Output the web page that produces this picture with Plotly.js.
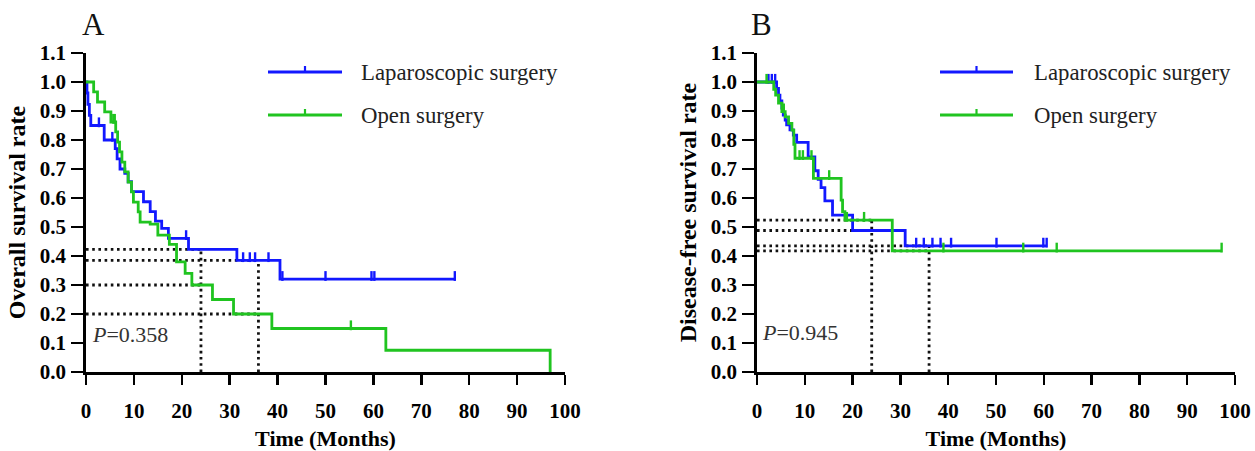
<!DOCTYPE html>
<html>
<head>
<meta charset="utf-8">
<script src="https://cdn.plot.ly/plotly-3.0.1.min.js"></script>
<style>
html,body{margin:0;padding:0;background:#fff;}
#chart{width:1255px;height:451px;}
</style>
</head>
<body>
<div id="chart"></div>
<script>
// ---------------- DATA ----------------
// Panel A: overall survival
const lapOS_times = [0.2, 0.4, 0.7, 1.0, 3.8, 6.1, 6.5, 7.1, 8.1, 8.8, 9.5, 12.0, 13.4, 14.5, 15.8, 17.2, 21.4, 31.5, 40.5];
const lapOS_surv  = [0.962, 0.923, 0.885, 0.85, 0.80, 0.77, 0.735, 0.70, 0.685, 0.656, 0.622, 0.587, 0.553, 0.52, 0.495, 0.461, 0.423, 0.385, 0.32];
const lapOS_end   = 77;
const lapOS_cens  = [2.7, 5.5, 20.9, 32.8, 34.2, 35.3, 38.1, 41.0, 50.0, 59.6, 60.2, 77.0];

const openOS_times = [1.6, 2.4, 3.9, 5.2, 6.2, 6.6, 7.0, 7.5, 8.1, 8.8, 9.5, 9.9, 10.9, 11.3, 13.4, 15.0, 17.4, 18.9, 20.7, 22.1, 26.4, 30.8, 38.8, 62.6, 96.9];
const openOS_surv  = [0.966, 0.931, 0.897, 0.862, 0.828, 0.793, 0.759, 0.724, 0.69, 0.655, 0.621, 0.586, 0.552, 0.517, 0.51, 0.472, 0.44, 0.38, 0.34, 0.30, 0.25, 0.20, 0.15, 0.075, 0];
const openOS_end   = 96.9;
const openOS_cens  = [5.7, 6.0, 55.3];

// Panel B: disease-free survival
const lapDFS_times = [4.1, 4.5, 4.8, 5.2, 5.5, 5.9, 6.2, 6.9, 7.6, 8.3, 10.7, 12.1, 12.8, 13.4, 14.2, 15.8, 20.0, 31.0];
const lapDFS_surv  = [0.978, 0.955, 0.935, 0.91, 0.886, 0.869, 0.852, 0.835, 0.817, 0.792, 0.742, 0.694, 0.664, 0.636, 0.59, 0.541, 0.488, 0.435];
const lapDFS_end   = 60.6;
const lapDFS_cens  = [2.4, 3.1, 3.8, 33.3, 34.9, 36.7, 38.4, 40.6, 50.1, 59.9, 60.6];

const openDFS_times = [3.5, 3.9, 4.5, 5.2, 5.9, 6.6, 7.3, 7.7, 7.95, 11.8, 17.6, 17.9, 18.4, 28.3];
const openDFS_surv  = [0.975, 0.955, 0.927, 0.898, 0.88, 0.857, 0.834, 0.785, 0.737, 0.668, 0.593, 0.553, 0.524, 0.418];
const openDFS_end   = 97.2;
const openDFS_cens  = [2.0, 5.6, 8.9, 9.6, 11.4, 15.1, 18.8, 22.4, 39.0, 55.7, 62.7, 97.2];

const landmarks = [24, 36];
const seriesNames = ['Laparoscopic surgery', 'Open surgery'];
const pValues = ['0.358', '0.945'];
const panelLabels = ['A', 'B'];
const yTitles = ['Overall survival rate', 'Disease-free survival rate'];
const xTitle = 'Time (Months)';
const xTickVals = [0, 10, 20, 30, 40, 50, 60, 70, 80, 90, 100];
const yTickVals = [0, 0.1, 0.2, 0.3, 0.4, 0.5, 0.6, 0.7, 0.8, 0.9, 1.0, 1.1];
const yTickText = ['0.0','0.1','0.2','0.3','0.4','0.5','0.6','0.7','0.8','0.9','1.0','1.1'];

// ---------------- STYLE ----------------
const BLUE = 'rgb(18,24,255)';
const GREEN = 'rgb(32,196,32)';
const SERIF = '"Liberation Serif", "Times New Roman", Times, serif';

function kmXY(times, surv, end) {
  const x = [0], y = [1];
  for (let i = 0; i < times.length; i++) { x.push(times[i]); y.push(surv[i]); }
  if (end > times[times.length - 1]) { x.push(end); y.push(surv[surv.length - 1]); }
  return {x, y};
}
function stepAt(times, surv, t) {
  let s = 1;
  for (let i = 0; i < times.length; i++) if (times[i] <= t) s = surv[i];
  return s;
}

const panels = [
  {groups: [[lapOS_times, lapOS_surv, lapOS_end, lapOS_cens, BLUE], [openOS_times, openOS_surv, openOS_end, openOS_cens, GREEN]], xa: 'x', ya: 'y'},
  {groups: [[lapDFS_times, lapDFS_surv, lapDFS_end, lapDFS_cens, BLUE], [openDFS_times, openDFS_surv, openDFS_end, openDFS_cens, GREEN]], xa: 'x2', ya: 'y2'}
];

const traces = [];
panels.forEach(p => {
  const dx = [], dy = [];
  landmarks.forEach(L => {
    let top = 0;
    p.groups.forEach(g => {
      const s = stepAt(g[0], g[1], L);
      top = Math.max(top, s);
      dx.push(0, L, null); dy.push(s, s, null);
    });
    dx.push(L, L, null); dy.push(0, top, null);
  });
  traces.push({x: dx, y: dy, xaxis: p.xa, yaxis: p.ya, mode: 'lines', hoverinfo: 'skip',
    line: {color: '#111', width: 2.8, dash: '2.6px,3.6px'}, showlegend: false});
  p.groups.forEach(g => {
    const xy = kmXY(g[0], g[1], g[2]);
    traces.push({x: xy.x, y: xy.y, xaxis: p.xa, yaxis: p.ya, mode: 'lines',
      line: {color: g[4], width: 2.8, shape: 'hv'}, showlegend: false});
    const cy = g[3].map(t => stepAt(g[0], g[1], t) + 0.011);
    traces.push({x: g[3], y: cy, xaxis: p.xa, yaxis: p.ya, mode: 'markers', cliponaxis: false,
      marker: {symbol: 'line-ns', size: 7, line: {color: g[4], width: 2.4}}, showlegend: false});
  });
});

function xaxisDef(domain, anchor) {
  return {domain, anchor, range: [0, 100], tickmode: 'array', tickvals: xTickVals,
    ticks: 'outside', ticklen: 10, tickwidth: 2.5, tickcolor: '#000', ticklabelstandoff: 8,
    showline: true, linewidth: 2.8, linecolor: '#000', showgrid: false, zeroline: false,
    tickfont: {family: SERIF, size: 21, color: '#000', weight: 'bold'},
    title: {text: xTitle, font: {family: SERIF, size: 22, color: '#000', weight: 'bold'}, standoff: 17},
    fixedrange: true};
}
function yaxisDef(domain, anchor, title) {
  return {domain, anchor, range: [0, 1.1], tickmode: 'array', tickvals: yTickVals, ticktext: yTickText,
    ticks: 'outside', ticklen: 12, tickwidth: 2.5, tickcolor: '#000', ticklabelstandoff: 1,
    showline: true, linewidth: 2.8, linecolor: '#000', showgrid: false, zeroline: false,
    tickfont: {family: SERIF, size: 21, color: '#000', weight: 'bold'},
    title: {text: title, font: {family: SERIF, size: 24, color: '#000', weight: 'bold'}, standoff: 8},
    fixedrange: true};
}

const W = 1255, H = 451;
const px = v => v / W, py = v => 1 - v / H;
const yDom = [py(372), py(53)];

const legendPos = [{x0: 268, x1: 342, tx: 359}, {x0: 940, x1: 1013, tx: 1032}];
const legendY = [72, 115];
const colors = [BLUE, GREEN];
const shapes = [], annotations = [];
legendPos.forEach((lp, pi) => {
  legendY.forEach((ly, i) => {
    shapes.push({type: 'line', xref: 'paper', yref: 'paper', x0: px(lp.x0), x1: px(lp.x1), y0: py(ly), y1: py(ly),
      line: {color: colors[i], width: 2.8}});
    const mid = (lp.x0 + lp.x1) / 2;
    shapes.push({type: 'line', xref: 'paper', yref: 'paper', x0: px(mid), x1: px(mid), y0: py(ly), y1: py(ly - 6),
      line: {color: colors[i], width: 2.2}});
    annotations.push({xref: 'paper', yref: 'paper', x: px(lp.tx), y: py(ly), xanchor: 'left', yanchor: 'middle',
      text: seriesNames[i], showarrow: false, font: {family: SERIF, size: 22.8, color: '#222'}});
  });
});
const letterX = [93, 761], pX = [90, 760], pY = [334, 332];
panelLabels.forEach((lab, i) => {
  annotations.push({xref: 'paper', yref: 'paper', x: px(letterX[i]), y: py(25), xanchor: 'center', yanchor: 'middle',
    text: lab, showarrow: false, font: {family: SERIF, size: 31, color: '#111'}});
  annotations.push({xref: 'paper', yref: 'paper', x: px(pX[i]), y: py(pY[i]), xanchor: 'left', yanchor: 'middle',
    text: '<i>P</i>=' + pValues[i], showarrow: false, font: {family: SERIF, size: 22, color: '#333'}});
});

const layout = {
  width: W, height: H, margin: {l: 0, r: 0, t: 0, b: 0},
  paper_bgcolor: '#fff', plot_bgcolor: '#fff', showlegend: false,
  xaxis: xaxisDef([px(86), px(565)], 'y'),
  yaxis: yaxisDef(yDom, 'x', yTitles[0]),
  xaxis2: xaxisDef([px(757), px(1235)], 'y2'),
  yaxis2: yaxisDef(yDom, 'x2', yTitles[1]),
  shapes, annotations
};
Plotly.newPlot('chart', traces, layout, {displayModeBar: false, staticPlot: true});
</script>
</body>
</html>
